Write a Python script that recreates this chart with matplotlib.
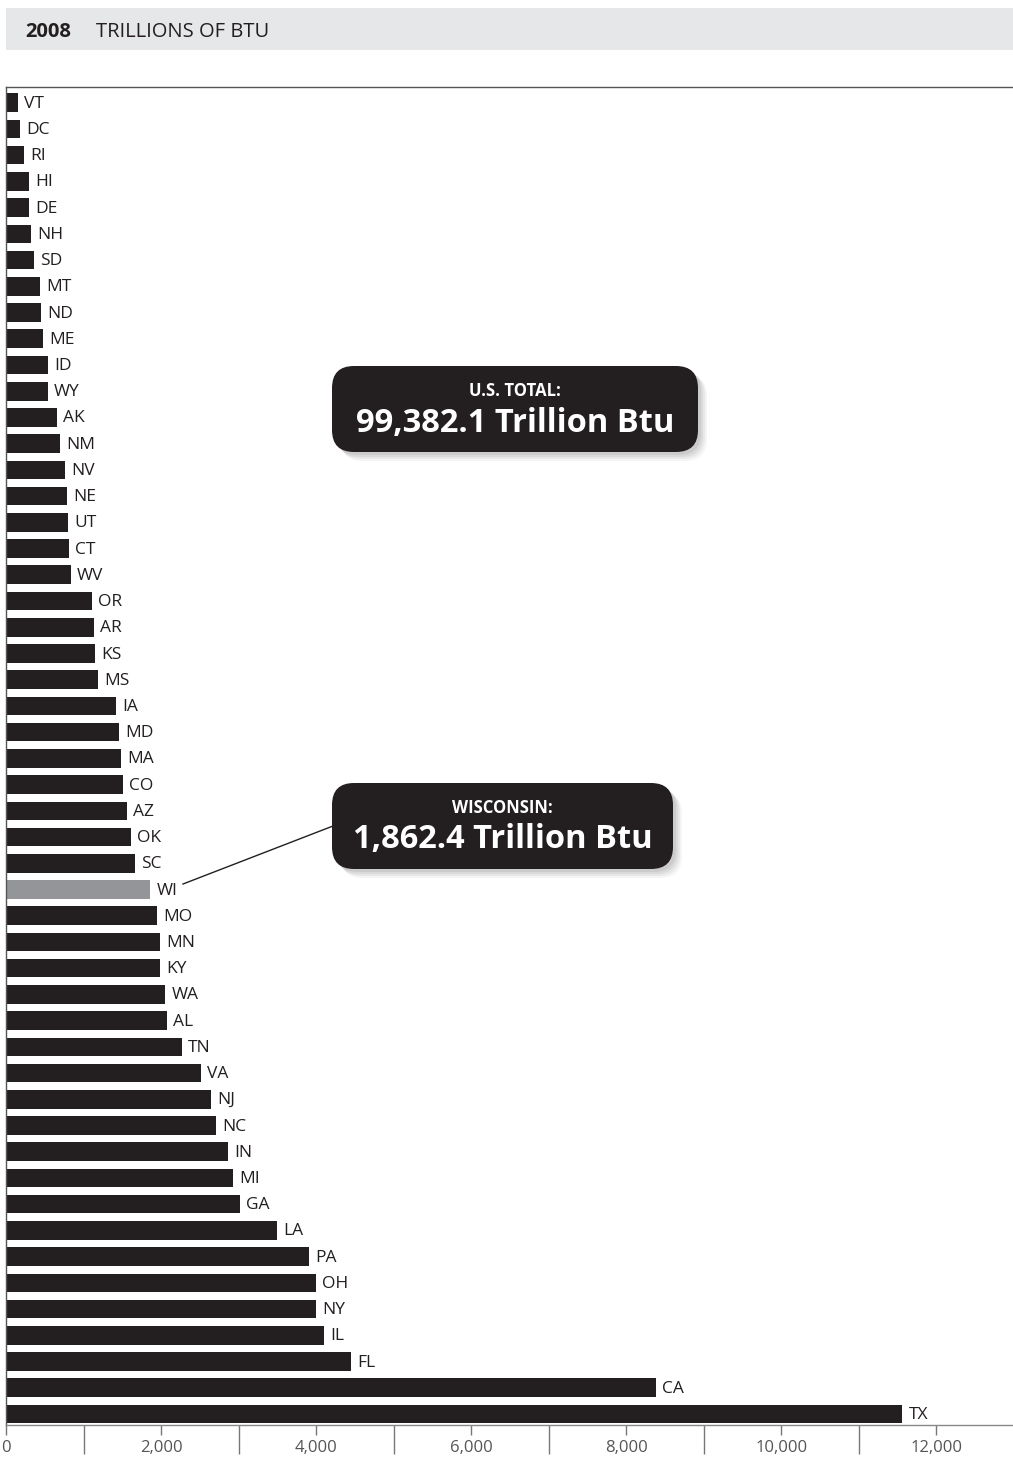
import numpy as np
import matplotlib.pyplot as plt
from matplotlib.patches import FancyBboxPatch, Rectangle
from matplotlib.lines import Line2D
from matplotlib.ticker import FuncFormatter, MultipleLocator

# 2008 total energy consumption by state, trillions of Btu (smallest first)
states = ["VT", "DC", "RI", "HI", "DE", "NH", "SD", "MT", "ND", "ME", "ID", "WY", "AK",
          "NM", "NV", "NE", "UT", "CT", "WV", "OR", "AR", "KS", "MS", "IA", "MD", "MA",
          "CO", "AZ", "OK", "SC", "WI", "MO", "MN", "KY", "WA", "AL", "TN", "VA", "NJ",
          "NC", "IN", "MI", "GA", "LA", "PA", "OH", "NY", "IL", "FL", "CA", "TX"]
values = [155, 180, 232, 297, 297, 323, 361, 439, 452, 477, 542, 542, 658,
          697, 761, 787, 800, 813, 839, 1110, 1135, 1148, 1187, 1419, 1458, 1484,
          1510, 1561, 1613, 1665, 1862.4, 1948, 1987, 1987, 2052, 2077, 2271, 2516, 2645,
          2710, 2865, 2929, 3019, 3497, 3910, 4000, 4000, 4103, 4452, 8387, 11561]
highlight = "WI"
us_total = "99,382.1 Trillion Btu"
wi_total = "1,862.4 Trillion Btu"

plt.rcParams['font.family'] = ['Open Sans', 'DejaVu Sans']

W, H = 1013, 1467
fig = plt.figure(figsize=(W / 100, H / 100), dpi=100)
ax = fig.add_axes([6 / W, 1 - 1425 / H, 1 - 6 / W, (1425 - 87) / H])

dark = "#231f20"
grey = "#939598"
colors = [grey if s == highlight else dark for s in states]
y = np.arange(len(states))
ax.barh(y, values, height=0.71, color=colors, zorder=2)
for yi, v, s in zip(y, values, states):
    ax.text(v + 80, yi + 0.04, s, va="center", ha="left", fontsize=12.5, color=dark)

ax.set_xlim(0, 12990)
ax.set_ylim(len(states) - 0.58, -0.6)
ax.set_yticks([])

ax.xaxis.set_major_locator(MultipleLocator(2000))
ax.xaxis.set_minor_locator(MultipleLocator(1000))
ax.xaxis.set_major_formatter(FuncFormatter(lambda x, p: f"{int(x):,}"))
ax.tick_params(axis="x", which="major", length=7, width=1, color="#777777",
               labelsize=12, labelcolor="#555555", pad=3.5)
ax.tick_params(axis="x", which="minor", length=21, width=1, color="#777777")

ax.spines["right"].set_visible(False)
ax.spines["bottom"].set_color("#888888")
ax.spines["left"].set_color("#555555")
ax.spines["top"].set_color("#555555")
for sp in ax.spines.values():
    sp.set_linewidth(1)

# header band
tr = fig.dpi_scale_trans
def px(x, yy):
    return x / 100, (H - yy) / 100

fig.patches.append(Rectangle(px(6, 50), (1013 - 6) / 100, 42 / 100, transform=tr,
                             facecolor="#e6e7e8", edgecolor="none", zorder=0))
fig.text(25 / W, 1 - 32 / H, "2008", fontsize=14.5, fontweight="bold", color=dark,
         va="center", ha="left")
fig.text(96 / W, 1 - 32 / H, "TRILLIONS OF BTU", fontsize=14.5, color=dark,
         va="center", ha="left")

# callout boxes
def callout(x0, y0, x1, y1, title, big):
    for k, a in enumerate([0.06, 0.06, 0.05, 0.04]):
        off = 3 + k * 2
        sh = FancyBboxPatch(px(x0 + off, y1 + off), (x1 - x0) / 100, (y1 - y0) / 100,
                            boxstyle="round,pad=0,rounding_size=0.22", transform=tr,
                            facecolor="black", edgecolor="none", alpha=a, zorder=3)
        fig.patches.append(sh)
    box = FancyBboxPatch(px(x0, y1), (x1 - x0) / 100, (y1 - y0) / 100,
                         boxstyle="round,pad=0,rounding_size=0.22", transform=tr,
                         facecolor=dark, edgecolor="none", zorder=4)
    fig.patches.append(box)
    cx = (x0 + x1) / 2
    fig.text(cx / W, 1 - (y0 + 25) / H, title, fontsize=12, fontweight="bold",
             color="white", ha="center", va="center", zorder=5)
    fig.text(cx / W, 1 - (y0 + 57) / H, big, fontsize=23.5, fontweight="bold",
             color="white", ha="center", va="center", zorder=5)

callout(332, 366, 698, 452, "U.S. TOTAL:", us_total)
callout(332, 783, 673, 869, "WISCONSIN:", wi_total)

fig.lines.append(Line2D([183 / W, 333 / W], [1 - 884 / H, 1 - 826 / H],
                        transform=fig.transFigure, color=dark, lw=1, zorder=3))

fig.savefig("out.png", dpi=100, facecolor="white")
